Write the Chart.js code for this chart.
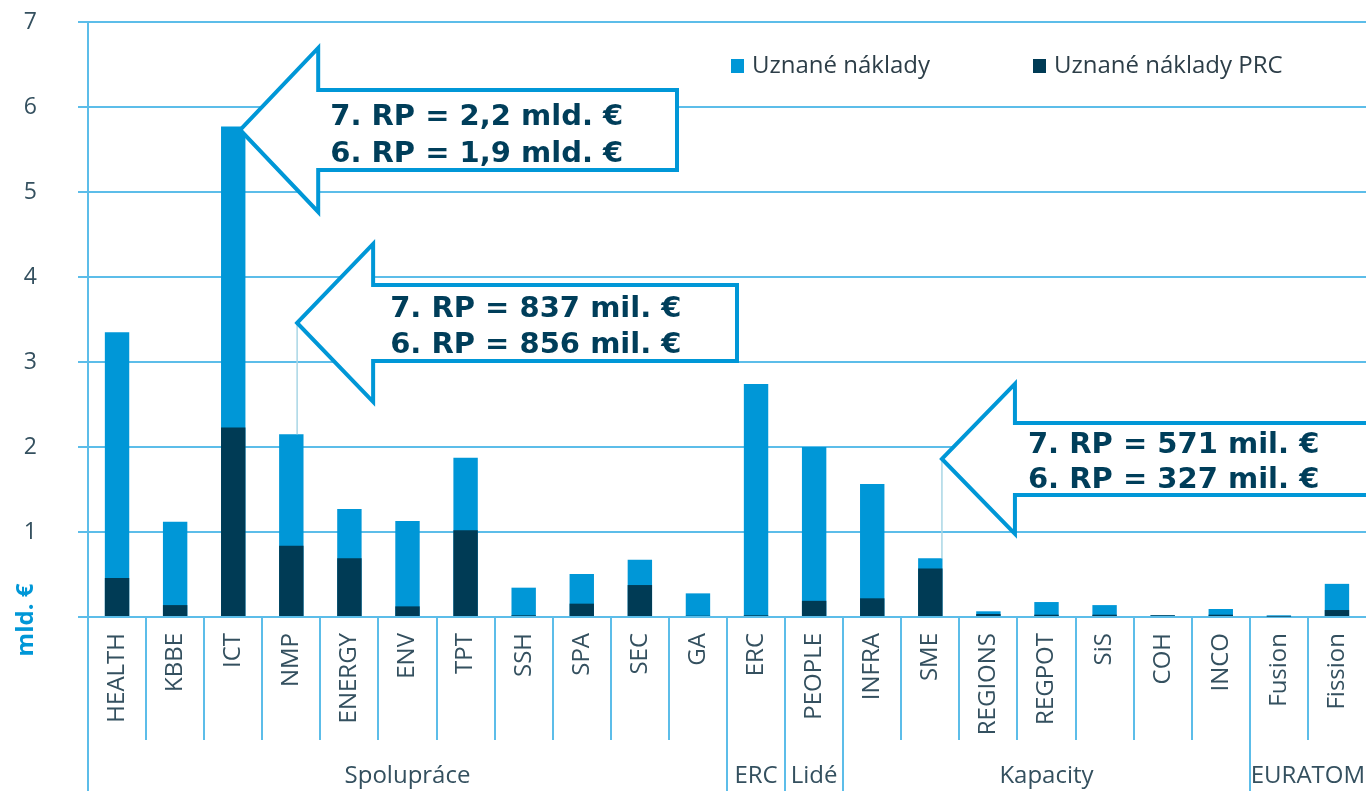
<!DOCTYPE html>
<html><head><meta charset="utf-8">
<script src="https://cdn.jsdelivr.net/npm/chart.js@4.4.1/dist/chart.umd.min.js"></script>
<style>html,body{margin:0;padding:0;background:#fff;overflow:hidden}canvas{display:block}</style>
</head><body>
<canvas id="c" width="1366" height="791"></canvas>
<script>
// ---- data ----
const categories = ['HEALTH','KBBE','ICT','NMP','ENERGY','ENV','TPT','SSH','SPA','SEC','GA','ERC','PEOPLE','INFRA','SME','REGIONS','REGPOT','SiS','COH','INCO','Fusion','Fission'];
const totalCosts = [3.35,1.12,5.77,2.15,1.27,1.13,1.875,0.345,0.505,0.674,0.278,2.74,2.00,1.565,0.69,0.067,0.176,0.14,0.02,0.094,0.02,0.39];
const prcCosts   = [0.46,0.14,2.23,0.837,0.69,0.125,1.02,0.02,0.157,0.376,0.015,0.02,0.19,0.22,0.571,0.035,0.027,0.027,0.02,0.027,0.004,0.082];
const seriesNames = ['Uznané náklady','Uznané náklady PRC'];
const yTickLabels = ['','1','2','3','4','5','6','7'];
const yAxisTitle = 'mld. €';
const groupLabels = ['Spolupráce','ERC','Lidé','Kapacity','EURATOM'];
const groupSizes  = [11,1,1,7,2];
const calloutTexts = [
  ['7. RP = 2,2 mld. €','6. RP = 1,9 mld. €'],
  ['7. RP = 837 mil. €','6. RP = 856 mil. €'],
  ['7. RP = 571 mil. €','6. RP = 327 mil. €']
];
const calloutBars = [2, 3, 14];

// ---- styles / layout ----
const LIGHT = '#0097d7', DARK = '#003b55', GRID = '#5cbde9', TEXT = '#34505f', CALLOUT_TEXT = '#003e5a', CONNECTOR = '#a9d6e5';
const calloutShapes = [
  {dx:0.12, v:5.73, head:78, headHalf:82, shaft:40, end:677, tx:90, b1:-5, b2:32, conn:false},
  {dx:0.10, v:3.46, head:76, headHalf:79, shaft:38, end:737, tx:93, b1:-6, b2:30, conn:true},
  {dx:0.20, v:1.86, head:73, headHalf:75, shaft:36, end:1400, tx:86, b1:-6, b2:29, conn:true}
];

const overlay = {
  id: 'overlay',
  afterDraw(chart) {
    const {ctx, chartArea: a, scales: {x, y}} = chart;
    const H = chart.height;
    const step = x.getPixelForValue(1) - x.getPixelForValue(0);
    ctx.save();
    ctx.strokeStyle = GRID; ctx.lineWidth = 2;
    ctx.beginPath(); ctx.moveTo(a.left, a.top); ctx.lineTo(a.left, H); ctx.stroke();
    const ends = new Set(); let acc = 0;
    groupSizes.forEach(s => { acc += s; ends.add(acc); });
    ctx.beginPath();
    for (let k = 1; k < categories.length; k++) {
      const px = Math.round((x.getPixelForValue(k - 1) + x.getPixelForValue(k)) / 2);
      ctx.moveTo(px, a.bottom);
      ctx.lineTo(px, ends.has(k) ? H : a.bottom + 123);
    }
    ctx.stroke();
    ctx.fillStyle = TEXT; ctx.font = '24px "Open Sans"'; ctx.textAlign = 'center'; ctx.textBaseline = 'alphabetic';
    let start = 0;
    groupLabels.forEach((g, i) => {
      const l = x.getPixelForValue(start) - step / 2;
      const r = x.getPixelForValue(start + groupSizes[i] - 1) + step / 2;
      ctx.fillText(g, (l + r) / 2, 783);
      start += groupSizes[i];
    });
    ctx.save();
    ctx.translate(26, 620); ctx.rotate(-Math.PI / 2);
    ctx.fillStyle = LIGHT; ctx.font = 'bold 24px "Open Sans"'; ctx.textAlign = 'center'; ctx.textBaseline = 'middle';
    ctx.fillText(yAxisTitle, 0, 0);
    ctx.restore();
    const legendItems = [{c: LIGHT, t: seriesNames[0], x: 731}, {c: DARK, t: seriesNames[1], x: 1033}];
    ctx.font = '24px "Open Sans"'; ctx.textAlign = 'left'; ctx.textBaseline = 'middle';
    legendItems.forEach(it => {
      ctx.fillStyle = it.c; ctx.fillRect(it.x, 59, 13, 14);
      ctx.fillStyle = '#2d3e48'; ctx.fillText(it.t, it.x + 21, 66);
    });
    calloutShapes.forEach((sh, i) => {
      const bar = calloutBars[i];
      const tx = x.getPixelForValue(bar + sh.dx), ty = y.getPixelForValue(sh.v);
      if (sh.conn) {
        ctx.strokeStyle = CONNECTOR; ctx.lineWidth = 1.5;
        ctx.beginPath(); ctx.moveTo(tx, ty); ctx.lineTo(tx, y.getPixelForValue(totalCosts[bar])); ctx.stroke();
      }
      ctx.beginPath();
      ctx.moveTo(tx, ty);
      ctx.lineTo(tx + sh.head, ty - sh.headHalf);
      ctx.lineTo(tx + sh.head, ty - sh.shaft);
      ctx.lineTo(sh.end, ty - sh.shaft);
      ctx.lineTo(sh.end, ty + sh.shaft);
      ctx.lineTo(tx + sh.head, ty + sh.shaft);
      ctx.lineTo(tx + sh.head, ty + sh.headHalf);
      ctx.closePath();
      ctx.fillStyle = '#fff'; ctx.fill();
      ctx.strokeStyle = LIGHT; ctx.lineWidth = 4; ctx.lineJoin = 'miter'; ctx.stroke();
      ctx.fillStyle = CALLOUT_TEXT; ctx.font = 'bold 29px "DejaVu Sans"'; ctx.textAlign = 'left'; ctx.textBaseline = 'alphabetic';
      ctx.fillText(calloutTexts[i][0], tx + sh.tx, ty + sh.b1);
      ctx.fillText(calloutTexts[i][1], tx + sh.tx, ty + sh.b2);
    });
    ctx.restore();
  }
};

new Chart(document.getElementById('c').getContext('2d'), {
  type: 'bar',
  data: {
    labels: categories,
    datasets: [
      {label: seriesNames[0], data: totalCosts, backgroundColor: LIGHT, order: 1, grouped: false},
      {label: seriesNames[1], data: prcCosts, backgroundColor: DARK, order: 0, grouped: false}
    ]
  },
  options: {
    responsive: false,
    animation: false,
    layout: {padding: {top: 22, right: 0, left: 0, bottom: 0}},
    plugins: {legend: {display: false}, tooltip: {enabled: false}},
    datasets: {bar: {barPercentage: 0.42, categoryPercentage: 1}},
    scales: {
      x: {
        grid: {display: false, drawTicks: false},
        border: {display: false},
        ticks: {autoSkip: false, maxRotation: 90, minRotation: 90, padding: 16, color: TEXT, font: {family: 'Open Sans', size: 24}},
        afterFit(s) { s.height = 174; s.paddingLeft = 0; s.paddingRight = 0; }
      },
      y: {
        min: 0, max: 7,
        grid: {color: GRID, lineWidth: 2, tickLength: 10},
        border: {display: false},
        ticks: {stepSize: 1, padding: 41, color: TEXT, font: {family: 'Open Sans', size: 23},
                callback: (v, i) => yTickLabels[i]},
        afterFit(s) { s.width = 88; s.paddingTop = 0; s.paddingBottom = 0; }
      }
    }
  },
  plugins: [overlay]
});
</script>
</body></html>
